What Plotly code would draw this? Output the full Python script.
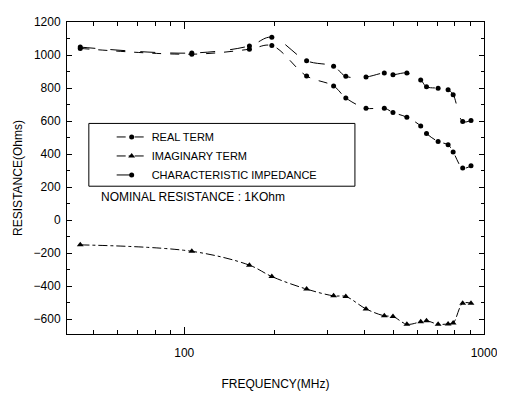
import plotly.graph_objects as go

freq = [45, 106, 165, 196, 256, 315, 346, 404, 465, 497, 553, 615, 643, 703, 759, 789, 849, 905]
real_term = [1040, 1005, 1035, 1057, 873, 813, 740, 678, 678, 652, 623, 570, 525, 476, 456, 413, 315, 329]
imag_term = [-150, -189, -273, -342, -418, -459, -463, -538, -580, -584, -631, -616, -610, -631, -629, -624, -504, -504]
char_imp = [1048, 1012, 1055, 1108, 965, 932, 871, 867, 891, 881, 891, 848, 808, 799, 789, 760, 597, 603]

x_major = [100, 1000]
x_minor = [50, 60, 70, 80, 90, 200, 300, 400, 500, 600, 700, 800, 900]
y_ticks = [-600, -400, -200, 0, 200, 400, 600, 800, 1000, 1200]

FONT = "Liberation Sans Narrow, Arial Narrow, Liberation Sans, Arial, sans-serif"

fig = go.Figure()
fig.add_trace(go.Scatter(x=freq, y=real_term, name="REAL TERM", mode="lines+markers",
                         line=dict(color="black", width=1, dash="dash", shape="spline"),
                         marker=dict(symbol="circle", size=5, color="black")))
fig.add_trace(go.Scatter(x=freq, y=imag_term, name="IMAGINARY TERM", mode="lines+markers",
                         line=dict(color="black", width=1, dash="dashdot", shape="spline"),
                         marker=dict(symbol="triangle-up", size=6, color="black")))
fig.add_trace(go.Scatter(x=freq, y=char_imp, name="CHARACTERISTIC IMPEDANCE", mode="lines+markers",
                         line=dict(color="black", width=1, dash="longdash", shape="spline"),
                         marker=dict(symbol="circle", size=5, color="black")))

fig.add_shape(type="rect", xref="paper", yref="paper",
              x0=(89 - 67) / 420, x1=(357 - 67) / 420,
              y0=(338 - 185) / 323, y1=(338 - 120) / 323,
              line=dict(color="black", width=1), fillcolor="white", layer="below")

fig.add_annotation(text="NOMINAL RESISTANCE : 1KOhm", xref="paper", yref="paper",
                   x=(99 - 67) / 420, y=(338 - 196) / 323, xanchor="left", yanchor="middle",
                   showarrow=False, font=dict(size=12, color="black", family=FONT))

# the page body has an 8px margin, so the figure is 8px smaller and margins are reduced
fig.update_layout(
    width=497, height=388,
    margin=dict(l=59, r=18, t=7, b=58),
    paper_bgcolor="white", plot_bgcolor="white",
    font=dict(family=FONT, size=12, color="black"),
    showlegend=True,
    legend=dict(x=(112 - 67) / 420, y=(338 - 119) / 323, xanchor="left", yanchor="top",
                bgcolor="rgba(0,0,0,0)", borderwidth=0, font=dict(size=11, family=FONT),
                tracegroupgap=0, itemwidth=30),
)
fig.update_xaxes(type="log", range=[1.609, 3.0], showgrid=False, zeroline=False,
                 showline=True, linecolor="black", linewidth=1, mirror="ticks",
                 ticks="inside", ticklen=7, tickcolor="black",
                 tickvals=x_major, ticktext=["100", "1000"], ticklabelstandoff=8,
                 minor=dict(tickvals=x_minor, ticks="inside", ticklen=4, tickcolor="black"),
                 title=dict(text="FREQUENCY(MHz)", standoff=20, font=dict(size=12)),
                 tickfont=dict(size=12))
fig.update_yaxes(range=[-690, 1200], showgrid=False, zeroline=False,
                 showline=True, linecolor="black", linewidth=1, mirror="ticks",
                 ticks="inside", ticklen=5, tickcolor="black",
                 tickvals=y_ticks, ticklabelstandoff=3,
                 minor=dict(dtick=100, ticks="inside", ticklen=3, tickcolor="black"),
                 title=dict(text="RESISTANCE(Ohms)", standoff=8, font=dict(size=12)),
                 tickfont=dict(size=12))

fig.write_html("out.html")
